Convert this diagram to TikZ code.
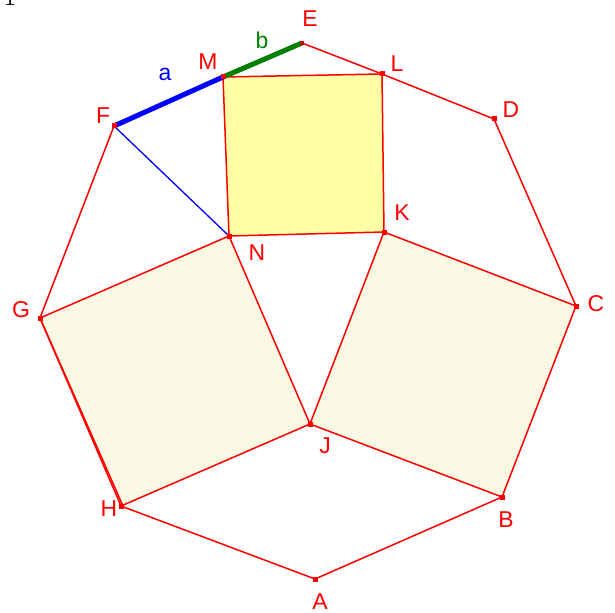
\documentclass[tikz,border=0pt]{standalone}
\usepackage{fontspec}
\setmainfont{Liberation Sans}
\newfontfamily\lmfont{Latin Modern Roman}
\begin{document}
\begin{tikzpicture}[x=1bp,y=-1bp,
  seg/.style={draw=red,line width=1.5bp},
  sqA/.style={fill={rgb,255:red,255;green,255;blue,168}},
  sqB/.style={fill={rgb,255:red,251;green,249;blue,228}},
  pt/.style={fill=red,inner sep=0pt,minimum size=5bp,rectangle},
  lab/.style={text=red,font=\fontsize{23}{27}\selectfont,inner sep=0pt}]
\useasboundingbox (0,0) rectangle (615,613);
% points
\coordinate (A) at (315,579);
\coordinate (B) at (502,497);
\coordinate (C) at (576,306);
\coordinate (D) at (494,119);
\coordinate (E) at (302,43);
\coordinate (F) at (114,126);
\coordinate (G) at (40,318);
\coordinate (H) at (121,506);
\coordinate (J) at (310,424);
\coordinate (K) at (384,232);
\coordinate (L) at (382,74);
\coordinate (M) at (223,77);
\coordinate (N) at (229,236);
% fills
\path[sqA] (M) -- (L) -- (K) -- (N) -- cycle;
\path[sqB] (G) -- (N) -- (J) -- (H) -- cycle;
\path[sqB] (K) -- (C) -- (B) -- (J) -- cycle;
% square edges
\draw[seg] (M) -- (L) -- (K) -- (N) -- cycle;
\draw[seg] (G) -- (N) -- (J) -- (H) -- cycle;
\draw[seg] (K) -- (C) -- (B) -- (J) -- cycle;
% outer polygon
\draw[seg] (E) -- (L) -- (D) -- (C);
\draw[seg] (B) -- (A) -- (H);
\draw[seg] (F) -- (G);
\draw[seg] (G) -- ([xshift=2bp]H);
% blue thin
\draw[draw=blue,line width=1.3bp] (F) -- (N);
% a and b
\draw[draw=blue,line width=5bp] (F) -- (M);
\draw[draw={rgb,255:red,0;green,128;blue,0},line width=5bp] (M) -- (E);
% point markers
\foreach \p in {A,B,C,D,F,G,H,J,K,L,M,N}
  \node[pt] (p\p) at (\p) {};
\node[pt,fill={rgb,255:red,200;green,0;blue,0},minimum size=4bp] (pE) at (E) {};
% labels
\node[lab] (lE) at (310,19) {E};
\node[lab] (lL) at (397,64) {L};
\node[lab] (lD) at (511,110) {D};
\node[lab] (lC) at (596,304) {C};
\node[lab] (lB) at (506,520) {B};
\node[lab] (lA) at (320,602) {A};
\node[lab] (lH) at (109,509) {H};
\node[lab] (lG) at (21,310) {G};
\node[lab] (lF) at (103,116) {F};
\node[lab] (lM) at (208,62) {M};
\node[lab] (lN) at (257,253) {N};
\node[lab] (lK) at (402,213) {K};
\node[lab] (lJ) at (325,446) {J};
\node[lab,text=blue] (la) at (165,74) {a};
\node[lab,text={rgb,255:red,0;green,128;blue,0}] (lb) at (262,40) {b};
% stray glyph at top-left edge
\node[inner sep=0pt,anchor=base,font=\lmfont\fontsize{30}{34}\selectfont] (one) at (10,5.5) {1};
\end{tikzpicture}
\end{document}
